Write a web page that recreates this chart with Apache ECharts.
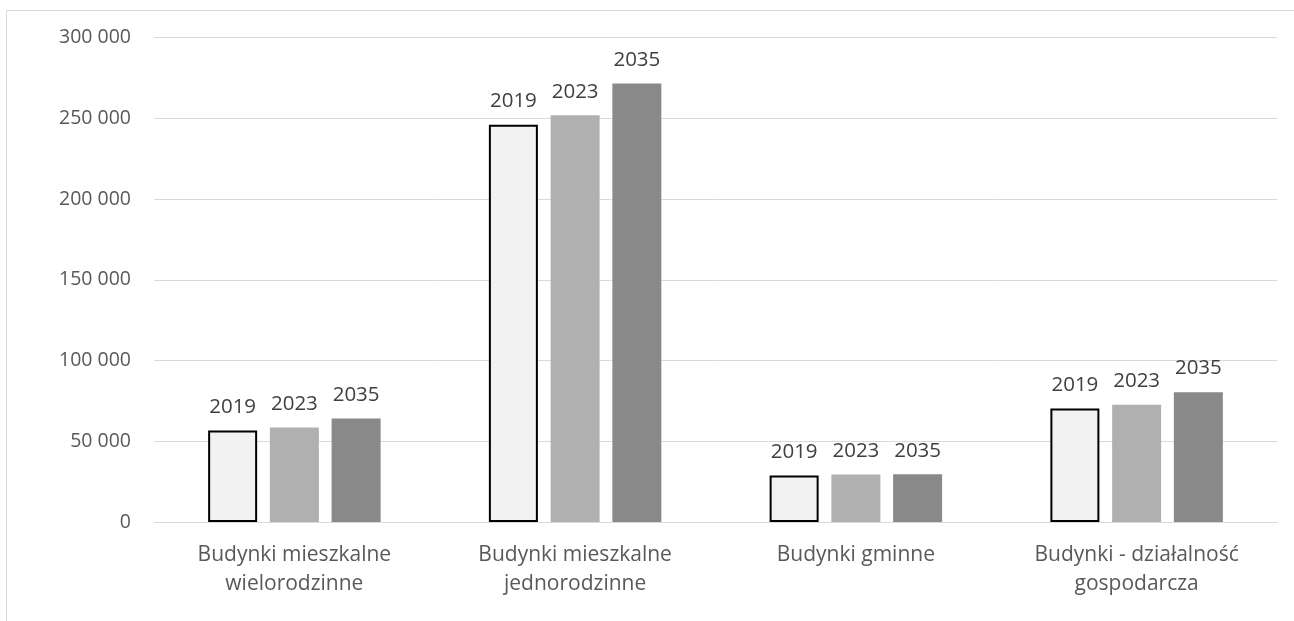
<!DOCTYPE html>
<html>
<head>
<meta charset="utf-8">
<script src="https://cdn.jsdelivr.net/npm/echarts@6/dist/echarts.min.js"></script>
<style>
  html, body { margin: 0; padding: 0; background: #fff; }
  #chart { width: 1294px; height: 621px; }
</style>
</head>
<body>
<div id="chart"></div>
<script>
// kategorie i wartości
const categories = [
  'Budynki mieszkalne\nwielorodzinne',
  'Budynki mieszkalne\njednorodzinne',
  'Budynki gminne',
  'Budynki - działalność\ngospodarcza'
];
const years = ['2019', '2023', '2035'];
const values2019 = [56600, 245900, 28800, 70300];
const values2023 = [58500, 251900, 29400, 72600];
const values2035 = [64100, 271500, 29500, 80400];
const yTicks = { min: 0, max: 300000, interval: 50000 };

const fmt = v => String(v).replace(/\B(?=(\d{3})+(?!\d))/g, ' ');

let labelStyle = {
  show: true,
  position: 'top',
  distance: 13,
  formatter: '{a}',
  fontFamily: 'Open Sans',
  fontSize: 20.5,
  color: '#404040'
};

let myChart = echarts.init(document.getElementById('chart'));
let option = {
  animation: false,
  graphic: [{
    type: 'rect',
    shape: { x: 6.5, y: 10.5, width: 1400, height: 700 },
    style: { fill: 'none', stroke: '#d9d9d9', lineWidth: 1 },
    silent: true
  }],
  grid: { left: 154, right: 17, top: 37.5, bottom: 99 },
  xAxis: {
    type: 'category',
    data: categories,
    axisTick: { show: false },
    axisLine: { lineStyle: { color: '#d9d9d9', width: 1 } },
    axisLabel: {
      interval: 0,
      margin: 19,
      fontFamily: 'Open Sans',
      fontSize: 21,
      lineHeight: 29,
      color: '#595959'
    }
  },
  yAxis: {
    type: 'value',
    min: yTicks.min,
    max: yTicks.max,
    interval: yTicks.interval,
    axisLine: { show: false },
    axisTick: { show: false },
    splitLine: { lineStyle: { color: '#d9d9d9', width: 1 } },
    axisLabel: {
      margin: 23,
      formatter: fmt,
      fontFamily: 'Open Sans',
      fontSize: 19.5,
      color: '#595959'
    }
  },
  series: [
    {
      name: years[0], type: 'bar', data: values2019,
      barWidth: 49, barGap: '26%', barCategoryGap: '38%',
      itemStyle: { color: '#f2f2f2', borderColor: '#000', borderWidth: 2 },
      label: labelStyle
    },
    {
      name: years[1], type: 'bar', data: values2023,
      barWidth: 49,
      itemStyle: { color: '#b0b0b0' },
      label: labelStyle
    },
    {
      name: years[2], type: 'bar', data: values2035,
      barWidth: 49,
      itemStyle: { color: '#898989' },
      label: labelStyle
    }
  ]
};
myChart.setOption(option);
</script>
</body>
</html>
